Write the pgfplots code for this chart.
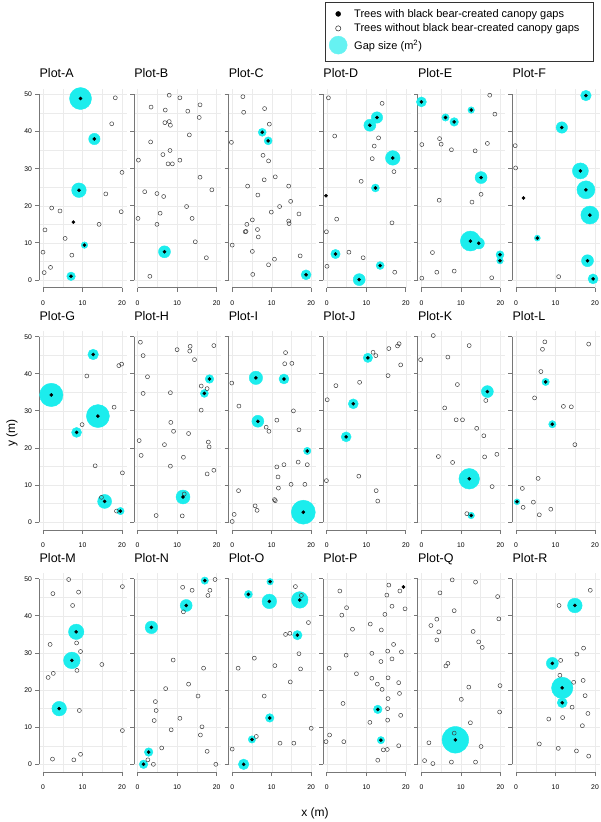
\documentclass[border=0pt]{standalone}
\usepackage{fontspec}
\setmainfont{Liberation Sans}
\usepackage{pgfplots}
\usepackage{pgfplotstable}
\pgfplotsset{compat=1.18}

\definecolor{gapcyan}{HTML}{1CEDED}
\definecolor{gapcyanl}{HTML}{66F2F2}
\definecolor{axisgrey}{HTML}{777777}
\definecolor{gridgrey}{HTML}{EBEBEB}

% open = trees without gaps (x y); gap = trees with gaps (x y radius of gap circle in pt)
\pgfplotstableread{
x y
18.3 49.1
17.4 42.1
20.0 29.0
15.9 23.2
2.2 19.4
4.3 18.6
19.8 18.4
14.2 15.0
0.5 13.5
5.6 11.2
0.0 7.5
7.3 6.7
1.9 3.4
0.3 2.0
}\openA
\pgfplotstableread{
x y r
9.5 48.9 11
13.0 38.0 5.7
9.1 24.2 7.3
7.7 15.6 0
10.5 9.4 3.3
7.1 1.0 4.3
}\gapA

\pgfplotstableread{
x y
8.0 49.8
10.7 49.1
3.4 46.6
15.8 47.2
7.0 45.8
12.7 45.5
15.6 43.8
6.9 42.4
8.0 42.7
8.3 41.7
13.1 39.1
3.3 37.2
8.2 34.9
6.4 33.8
0.2 32.3
10.7 32.3
7.7 31.3
8.8 31.3
15.8 27.7
18.8 24.3
1.8 23.8
4.9 23.3
6.6 22.5
12.4 19.8
5.7 18.0
0.1 16.6
13.8 16.6
4.9 15.0
14.6 10.3
17.4 6.0
3.1 1.0
}\openB
\pgfplotstableread{
x y r
6.8 7.6 6
}\gapB

\pgfplotstableread{
x y
2.7 49.4
2.9 45.2
8.2 46.2
9.4 42.0
-0.2 37.1
7.8 33.6
9.2 32.1
10.9 27.8
8.1 27.0
3.9 25.3
14.3 25.3
6.5 22.9
14.8 21.2
12.0 19.8
9.9 18.3
16.9 17.8
5.1 16.2
14.3 15.9
14.4 15.2
3.7 15.0
6.4 13.6
3.5 13.1
3.3 13.0
6.6 11.6
0.0 9.4
5.1 7.7
17.2 6.5
10.7 5.6
9.2 4.1
5.2 1.5
}\openC
\pgfplotstableread{
x y r
7.6 39.8 4
9.1 37.5 4
18.7 1.4 5
}\gapC

\pgfplotstableread{
x y
0.4 49.1
14.0 47.6
2.0 38.8
13.1 38.3
12.0 36.1
11.5 32.7
17.0 29.2
8.7 26.6
2.5 16.4
16.5 15.4
-0.1 13.0
5.6 7.5
9.2 6.0
0.05 3.7
17.2 2.1
}\openD
\pgfplotstableread{
x y r
12.7 43.8 5.7
10.9 41.7 6
16.7 32.9 7.3
12.3 24.8 4
-0.2 22.7 0
2.2 7.0 4.7
13.5 3.9 4
8.2 0.1 6
}\gapD

\pgfplotstableread{
x y
17.3 49.8
18.6 44.7
4.6 38.1
0.1 36.5
5.0 36.6
16.7 36.8
7.6 35.1
13.6 34.8
15.1 23.1
4.5 21.5
12.8 21.0
2.8 7.4
3.9 2.1
8.3 2.4
0.1 0.5
17.8 0.6
}\openE
\pgfplotstableread{
x y r
0.0 48.0 5
12.6 45.8 3.3
6.1 43.8 3.7
8.3 42.6 4.3
15.1 27.6 6
12.4 10.5 10
14.5 9.9 5.7
19.9 6.8 4
19.9 5.2 3.3
}\gapE

\pgfplotstableread{
x y
-0.2 36.2
-0.1 30.2
10.8 0.9
}\openF
\pgfplotstableread{
x y r
17.7 49.7 5.3
11.6 41.1 5.7
16.3 29.4 8
17.7 24.3 9
1.9 22.1 0
18.7 17.5 9
5.4 11.3 3
18.1 5.2 6
19.5 0.3 5
}\gapF

\pgfplotstableread{
x y
19.9 42.6
19.2 42.2
11.1 39.4
18.0 31.0
9.9 26.3
13.2 15.2
20.1 13.3
14.8 6.7
18.6 3.0
}\openG
\pgfplotstableread{
x y r
12.7 45.2 5.3
2.1 34.3 11.7
13.9 28.6 11.5
8.5 24.2 5
15.6 5.6 7
19.6 3.0 3.7
}\gapG

\pgfplotstableread{
x y
0.7 48.5
1.4 44.9
13.3 47.4
13.2 46.1
10.0 46.5
19.3 47.6
14.4 43.8
2.5 39.2
16.1 36.7
17.6 36.0
1.4 34.7
8.3 34.9
16.1 30.2
8.4 26.9
9.1 24.5
12.9 23.9
0.4 22.0
17.9 21.6
18.1 20.3
6.8 20.9
0.9 18.0
11.6 17.5
8.3 15.1
19.3 14.0
17.6 13.0
11.8 7.6
4.7 1.8
11.3 1.7
}\openH
\pgfplotstableread{
x y r
18.2 38.6 4.3
16.9 34.7 4
11.5 6.8 7
}\gapH

\pgfplotstableread{
x y
13.5 45.7
13.3 42.7
15.1 42.8
-0.1 37.5
1.7 31.3
15.5 30.0
11.3 27.5
8.6 25.6
9.3 24.5
16.9 24.9
16.7 16.2
13.1 15.5
19.0 15.5
11.3 14.9
11.6 12.2
14.9 10.2
18.4 10.2
11.7 9.2
1.6 8.5
10.7 6.1
10.9 5.8
5.8 4.4
6.3 3.2
0.5 2.1
0.0 0.2
}\openI
\pgfplotstableread{
x y r
6.0 38.9 6.7
13.1 38.6 5
6.5 27.2 6
19.0 19.2 3.7
18.0 2.7 12
}\gapI

\pgfplotstableread{
x y
11.7 45.8
12.4 44.9
15.7 46.8
18.3 48.1
17.9 47.5
18.7 42.4
15.5 39.5
8.3 37.7
2.3 36.8
0.1 33.0
8.1 12.4
-0.1 11.2
12.5 8.5
12.9 5.7
}\openJ
\pgfplotstableread{
x y r
10.4 44.3 4.7
6.7 31.9 5
4.9 23.0 5
}\gapJ

\pgfplotstableread{
x y
3.0 50.3
12.1 47.6
6.7 44.5
-0.2 43.8
9.1 37.1
16.3 32.8
5.9 30.8
8.8 27.6
10.4 27.6
14.0 25.3
15.8 23.3
4.3 17.7
19.1 18.3
16.0 17.6
7.9 16.1
17.9 9.6
11.5 2.3
}\openK
\pgfplotstableread{
x y r
16.7 35.2 6
12.1 11.7 10.3
12.6 1.8 3.3
}\gapK

\pgfplotstableread{
x y
7.3 48.6
18.4 48.0
6.7 46.6
6.3 40.6
4.7 33.5
12.0 31.2
14.0 31.1
14.9 20.9
5.6 11.8
1.6 9.1
4.4 5.4
1.8 4.0
8.8 3.5
5.9 2.0
}\openL
\pgfplotstableread{
x y r
7.5 37.8 3.7
9.2 26.4 3.7
0.25 5.5 3
}\gapL

\pgfplotstableread{
x y
6.5 49.8
20.1 47.9
2.5 46.0
9.0 46.4
7.5 42.8
1.8 32.3
8.5 32.7
9.5 30.4
14.9 26.9
8.6 25.3
2.6 24.5
1.3 23.4
9.2 14.5
20.1 9.1
9.5 2.7
2.4 1.4
7.8 1.2
}\openM
\pgfplotstableread{
x y r
8.4 35.7 7.7
7.3 28.0 8.3
4.1 15.0 7.3
}\gapM

\pgfplotstableread{
x y
19.6 49.8
11.4 47.7
13.8 46.9
18.3 46.9
17.8 45.5
11.6 41.1
9.0 28.1
16.7 25.9
12.9 21.6
7.1 20.4
15.3 18.4
4.5 16.9
4.7 14.5
10.7 12.4
4.2 11.8
16.3 10.1
8.5 9.3
15.9 7.9
6.1 4.4
17.6 3.5
2.6 1.2
4.0 0.0
19.8 0.0
}\openN
\pgfplotstableread{
x y r
17.0 49.5 3.7
12.3 42.8 6
3.5 36.9 6.3
2.8 3.3 4.3
1.5 0.0 4.3
}\gapN

\pgfplotstableread{
x y
16.0 47.9
17.5 45.5
19.3 38.2
13.5 35.0
14.6 35.3
16.9 29.8
5.6 28.6
1.5 25.9
10.8 26.6
17.3 25.7
14.7 22.2
8.1 18.4
20.0 9.7
6.1 7.5
12.1 5.7
15.6 5.7
0.0 4.1
}\openO
\pgfplotstableread{
x y r
9.6 49.2 3.3
4.1 45.8 4
9.4 43.9 7.3
17.1 44.3 8.3
16.5 34.8 4.7
9.5 12.5 4.3
5.0 6.7 3.7
2.9 0.0 5.3
}\gapO

\pgfplotstableread{
x y
3.3 46.7
15.7 48.3
15.2 45.6
18.5 46.7
5.0 42.2
3.8 40.2
14.7 40.4
16.5 42.6
19.8 41.9
11.0 37.8
6.5 36.4
13.8 36.2
11.4 29.9
4.9 29.4
15.4 30.5
16.9 32.3
18.9 30.3
16.5 28.4
13.7 27.7
0.6 25.9
7.5 24.4
11.4 23.2
15.5 23.3
18.2 22.0
12.8 21.6
14.0 20.2
18.4 19.1
15.5 17.7
4.1 16.4
15.4 15.0
15.4 11.9
18.7 13.2
10.9 11.3
0.7 7.9
-0.2 6.1
4.3 6.1
18.2 5.0
14.3 3.9
15.3 4.0
12.9 1.1
}\openP
\pgfplotstableread{
x y r
12.9 14.8 4.3
13.7 6.5 3.7
19.4 47.8 0
}\gapP

\pgfplotstableread{
x y
7.8 49.7
13.7 49.1
4.7 46.2
19.3 45.2
8.3 41.4
19.6 39.2
3.9 39.1
2.4 37.4
4.4 35.7
13.1 35.8
14.5 33.0
15.4 31.5
3.9 33.5
6.7 27.2
6.2 26.5
19.9 21.2
12.0 20.8
10.1 17.5
19.8 14.1
12.4 11.2
8.3 8.4
1.9 5.8
15.1 4.8
0.8 1.0
2.9 0.2
7.6 0.6
13.7 0.6
}\openQ
\pgfplotstableread{
x y r
8.6 6.6 13.3
}\gapQ

\pgfplotstableread{
x y
18.8 46.9
10.9 42.8
17.1 31.3
15.4 29.7
11.3 28.0
11.1 24.0
17.0 22.6
14.6 22.1
17.5 18.5
14.2 15.4
18.2 13.7
11.8 12.6
8.3 12.2
16.8 10.4
5.9 5.5
10.7 4.3
15.3 3.6
18.4 2.2
}\openR
\pgfplotstableread{
x y r
14.9 42.8 7.3
9.2 27.2 6
11.7 20.6 10.7
11.7 16.6 5
}\gapR

\pgfplotsset{
  panel/.style={
    scale only axis, width=87.3pt, height=198.9pt, anchor=south west,
    xmin=-0.9, xmax=21.2, ymin=-2.1, ymax=51.5,
    axis line style={draw=none},
    tick pos=left, tick align=outside,
    major tick length=4pt, minor tick length=0pt,
    tick style={axisgrey, line width=0.8pt},
    xtick={0,10,20}, ytick={0,10,...,50},
    minor xtick={5,15}, minor ytick={5,15,...,45},
    grid=both, grid style={gridgrey, line width=0.4pt},
    /pgf/number format/assume math mode=true,
    ticklabel style={font=\fontsize{6.8}{8}\selectfont},
    xticklabel style={yshift=-5pt},
    yticklabels={},
    title style={at={(0,1)}, anchor=base west, inner sep=0pt, yshift=5pt,
      font=\fontsize{12.5}{14}\selectfont},
    clip=false,
  },
  firstcol/.style={yticklabels={0,10,20,30,40,50}},
  gapmark/.style={scatter, only marks, mark=*,
    scatter/use mapped color={draw=gapcyan, fill=gapcyan},
    visualization depends on={\thisrow{r}\as\gaprad},
    scatter/@pre marker code/.append style={/tikz/mark size=\gaprad}},
  openmark/.style={only marks, mark=o, mark size=2pt, black!75,
    mark options={line width=0.5pt}},
  beardot/.style={only marks, mark=*, mark size=1.6pt, black},
}

\newcommand\panel[6]{%
\begin{axis}[panel, at={(#1pt,#2pt)}, title={Plot-#3}, #6]
\addplot[gapmark] table {#5};
\addplot[openmark] table {#4};
\addplot[beardot] table {#5};
\draw[axisgrey, line width=0.8pt] (axis cs:-0.9,0) -- (axis cs:-0.9,50);
\draw[axisgrey, line width=0.8pt] (axis cs:0,-2.1) -- (axis cs:20,-2.1);
\end{axis}}

\begin{document}
\begin{tikzpicture}
\useasboundingbox (0,0) rectangle (600pt,822pt);

\panel{39.45}{534.2}{A}{\openA}{\gapA}{firstcol}
\panel{134.05}{534.2}{B}{\openB}{\gapB}{}
\panel{228.65}{534.2}{C}{\openC}{\gapC}{}
\panel{323.25}{534.2}{D}{\openD}{\gapD}{}
\panel{417.85}{534.2}{E}{\openE}{\gapE}{}
\panel{512.45}{534.2}{F}{\openF}{\gapF}{}

\panel{39.45}{292.0}{G}{\openG}{\gapG}{firstcol}
\panel{134.05}{292.0}{H}{\openH}{\gapH}{}
\panel{228.65}{292.0}{I}{\openI}{\gapI}{}
\panel{323.25}{292.0}{J}{\openJ}{\gapJ}{}
\panel{417.85}{292.0}{K}{\openK}{\gapK}{}
\panel{512.45}{292.0}{L}{\openL}{\gapL}{}

\panel{39.45}{49.9}{M}{\openM}{\gapM}{firstcol}
\panel{134.05}{49.9}{N}{\openN}{\gapN}{}
\panel{228.65}{49.9}{O}{\openO}{\gapO}{}
\panel{323.25}{49.9}{P}{\openP}{\gapP}{}
\panel{417.85}{49.9}{Q}{\openQ}{\gapQ}{}
\panel{512.45}{49.9}{R}{\openR}{\gapR}{}

% legend
\begin{axis}[hide axis, scale only axis, width=10pt, height=10pt,
  at={(325pt,820pt)}, anchor=north west, xmin=0, xmax=1, ymin=0, ymax=1,
  legend cell align=left,
  legend style={at={(0,1)}, anchor=north west, draw=none, fill=none,
    inner sep=0pt, xshift=4pt, yshift=-5pt,
    font=\fontsize{11}{13}\selectfont, row sep=1pt, column sep=5pt,
    cells={anchor=west, inner ysep=1pt}}]
\addlegendimage{only marks, mark=*, mark size=2.5pt, black}
\addlegendentry{Trees with black bear-created canopy gaps}
\addlegendimage{only marks, mark=o, mark size=2.6pt, black!75, mark options={line width=0.6pt}}
\addlegendentry{Trees without black bear-created canopy gaps}
\addlegendimage{only marks, mark=*, mark size=9pt, gapcyanl, mark options={draw=gapcyanl}}
\addlegendentry{Gap size (m\textsuperscript{2})}
\end{axis}
\draw[black!80, line width=0.8pt] (325pt,761pt) rectangle (593pt,820pt);

\node[rotate=90, font=\fontsize{12}{14}\selectfont] at (12pt,389pt) {y (m)};
\node[font=\fontsize{12}{14}\selectfont] at (315pt,9pt) {x (m)};
\end{tikzpicture}
\end{document}
